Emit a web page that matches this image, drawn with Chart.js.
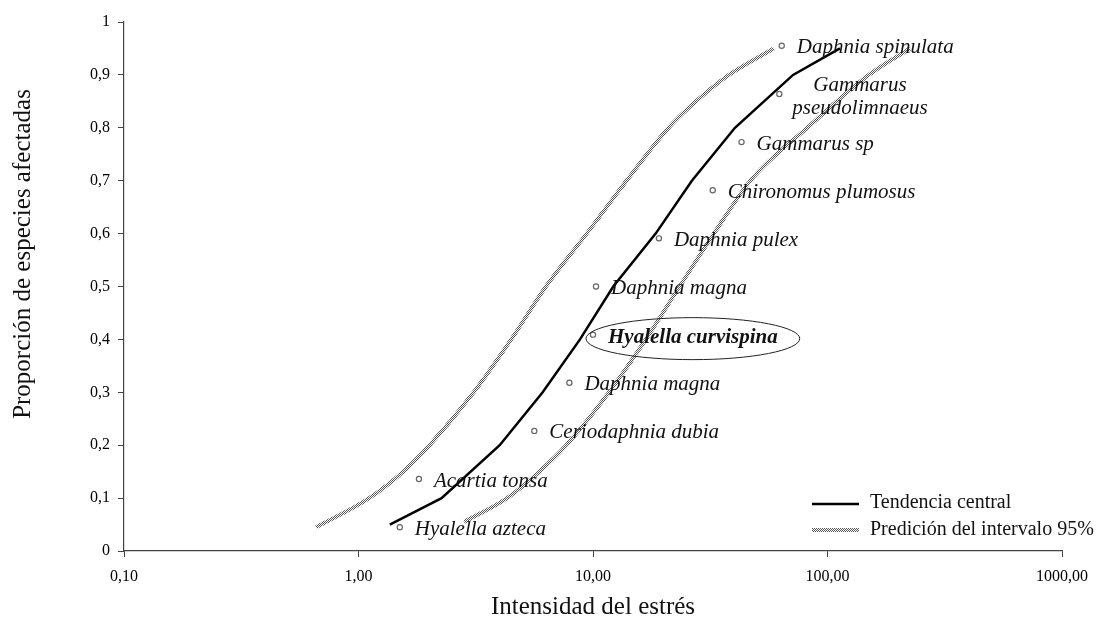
<!DOCTYPE html>
<html>
<head>
<meta charset="utf-8">
<script src="https://cdn.jsdelivr.net/npm/chart.js@4/dist/chart.umd.min.js"></script>
<style>
html,body{margin:0;padding:0;background:#fff;}
#wrap{width:1096px;height:622px;position:relative;}
</style>
</head>
<body>
<div id="wrap"><canvas id="c" width="1096" height="622"></canvas></div>
<script>
// ---- data ----
const speciesNames = ['Hyalella azteca','Acartia tonsa','Ceriodaphnia dubia','Daphnia magna','Hyalella curvispina','Daphnia magna','Daphnia pulex','Chironomus plumosus','Gammarus sp','Gammarus\npseudolimnaeus','Daphnia spinulata'];
const speciesX = [1.50, 1.81, 5.62, 7.93, 10.0, 10.3, 19.1, 32.4, 43.0, 62.3, 63.8];
const speciesY = [0.045, 0.136, 0.227, 0.318, 0.409, 0.5, 0.591, 0.682, 0.773, 0.864, 0.955];
const highlighted = 'Hyalella curvispina';

const centralX = [1.36, 2.26, 4.0, 6.1, 8.8, 12.2, 18.5, 26.4, 40.3, 71.3, 113];
const centralY = [0.05, 0.1, 0.2, 0.3, 0.4, 0.5, 0.6, 0.7, 0.8, 0.9, 0.95];

const upperX = [0.66, 1.11, 1.55, 2.01, 3.1, 4.48, 6.3, 9.4, 13.9, 21.0, 27.5, 38, 59];
const upperY = [0.045, 0.1, 0.15, 0.2, 0.3, 0.4, 0.5, 0.6, 0.7, 0.8, 0.85, 0.9, 0.95];

const lowerX = [2.82, 4.3, 5.9, 7.7, 11.7, 16.8, 23.4, 32.8, 46.9, 82, 150, 225];
const lowerY = [0.055, 0.1, 0.15, 0.2, 0.3, 0.4, 0.5, 0.6, 0.7, 0.8, 0.9, 0.95];

const xTickValues = [0.1, 1, 10, 100, 1000];
const xTickLabels = ['0,10', '1,00', '10,00', '100,00', '1000,00'];
const yTickValues = [0, 0.1, 0.2, 0.3, 0.4, 0.5, 0.6, 0.7, 0.8, 0.9, 1];
const yTickLabels = ['0', '0,1', '0,2', '0,3', '0,4', '0,5', '0,6', '0,7', '0,8', '0,9', '1'];

const xTitle = 'Intensidad del estrés';
const yTitle = 'Proporción de especies afectadas';
const legendCentral = 'Tendencia central';
const legendBand = 'Predición del intervalo 95%';

// ---- helpers ----
const zip = (xs, ys) => xs.map((x, i) => ({x: x, y: ys[i]}));
function makePattern() {
  const p = document.createElement('canvas');
  p.width = 2; p.height = 2;
  const g = p.getContext('2d');
  g.fillStyle = '#ffffff'; g.fillRect(0, 0, 2, 2);
  g.fillStyle = '#555555';
  g.fillRect(0, 0, 1, 1); g.fillRect(1, 1, 1, 1);
  return document.getElementById('c').getContext('2d').createPattern(p, 'repeat');
}
const dotPattern = makePattern();
const SERIF = '"Liberation Serif", "Times New Roman", serif';

const overlay = {
  id: 'overlay',
  afterDatasetsDraw(chart) {
    const ctx = chart.ctx;
    const xs = chart.scales.x, ys = chart.scales.y;
    ctx.save();
    ctx.fillStyle = '#111';
    ctx.textBaseline = 'middle';
    speciesNames.forEach((name, i) => {
      const px = xs.getPixelForValue(speciesX[i]);
      const py = ys.getPixelForValue(speciesY[i]);
      const lines = name.split('\n');
      if (name === highlighted) {
        ctx.font = 'italic bold 21px ' + SERIF;
        ctx.textAlign = 'left';
        const w = ctx.measureText(name).width;
        const tx = px + 15;
        ctx.fillText(name, tx, py + 3);
        ctx.beginPath();
        ctx.ellipse(tx + w / 2, py + 4, w / 2 + 22, 21, 0, 0, Math.PI * 2);
        ctx.strokeStyle = '#222';
        ctx.lineWidth = 1;
        ctx.stroke();
      } else if (lines.length > 1) {
        ctx.font = 'italic 21px ' + SERIF;
        ctx.textAlign = 'center';
        const w = Math.max(...lines.map(l => ctx.measureText(l).width));
        const cx = px + 13 + w / 2;
        lines.forEach((l, k) => ctx.fillText(l, cx, py - 8 + k * 23));
      } else {
        ctx.font = 'italic 21px ' + SERIF;
        ctx.textAlign = 'left';
        ctx.fillText(name, px + 15, py + 2);
      }
    });
    ctx.restore();
  },
  afterDraw(chart) {
    const ctx = chart.ctx;
    const a = chart.chartArea;
    ctx.save();
    ctx.fillStyle = '#111';
    // axis titles
    ctx.font = '25px ' + SERIF;
    ctx.textAlign = 'center';
    ctx.textBaseline = 'middle';
    ctx.fillText(xTitle, (a.left + a.right) / 2, 607);
    ctx.save();
    ctx.translate(23, 254);
    ctx.rotate(-Math.PI / 2);
    ctx.fillText(yTitle, 0, 0);
    ctx.restore();
    // legend
    const lx = 812, ly1 = 504, ly2 = 530;
    ctx.beginPath();
    ctx.moveTo(lx, ly1); ctx.lineTo(lx + 47, ly1);
    ctx.strokeStyle = '#000'; ctx.lineWidth = 2.5; ctx.stroke();
    ctx.beginPath();
    ctx.moveTo(lx, ly2); ctx.lineTo(lx + 47, ly2);
    ctx.strokeStyle = dotPattern; ctx.lineWidth = 4; ctx.stroke();
    ctx.font = '20px ' + SERIF;
    ctx.textAlign = 'left';
    ctx.fillStyle = '#111';
    ctx.fillText(legendCentral, 870, ly1 - 1);
    ctx.fillText(legendBand, 870, ly2);
    ctx.restore();
  }
};

new Chart(document.getElementById('c'), {
  type: 'scatter',
  data: {
    datasets: [
      {label: legendBand, data: zip(upperX, upperY), showLine: true, borderColor: dotPattern, borderWidth: 4, pointRadius: 0, cubicInterpolationMode: 'monotone', order: 3},
      {label: legendBand, data: zip(lowerX, lowerY), showLine: true, borderColor: dotPattern, borderWidth: 4, pointRadius: 0, cubicInterpolationMode: 'monotone', order: 3},
      {label: legendCentral, data: zip(centralX, centralY), showLine: true, borderColor: '#000', borderWidth: 2.5, pointRadius: 0, tension: 0, order: 2},
      {label: 'species', data: zip(speciesX, speciesY), showLine: false, pointRadius: 2.6, pointBorderWidth: 1.2, pointBorderColor: '#666', pointBackgroundColor: '#fff', order: 1}
    ]
  },
  options: {
    responsive: false,
    animation: false,
    layout: {padding: {left: 0, right: 34, top: 22, bottom: 0}},
    plugins: {legend: {display: false}, tooltip: {enabled: false}, title: {display: false}},
    scales: {
      x: {
        type: 'logarithmic', min: 0.1, max: 1000,
        afterBuildTicks: (s) => { s.ticks = xTickValues.map(v => ({value: v})); },
        afterFit: (s) => { s.height = 71; s.paddingLeft = 0; s.paddingRight = 0; },
        grid: {drawOnChartArea: false, drawTicks: true, tickLength: 6, color: '#444'},
        border: {color: '#444', width: 1.2},
        ticks: {
          autoSkip: false, maxRotation: 0, padding: 10, color: '#000',
          font: {family: SERIF, size: 16},
          callback: (v) => { const i = xTickValues.indexOf(v); return i >= 0 ? xTickLabels[i] : ''; }
        }
      },
      y: {
        min: 0, max: 1,
        afterBuildTicks: (s) => { s.ticks = yTickValues.map(v => ({value: v})); },
        afterFit: (s) => { s.width = 124; s.paddingTop = 0; s.paddingBottom = 0; },
        grid: {drawOnChartArea: false, drawTicks: true, tickLength: 6, color: '#444'},
        border: {color: '#444', width: 1.2},
        ticks: {
          autoSkip: false, padding: 8, color: '#000',
          font: {family: SERIF, size: 16},
          callback: (v) => { const i = yTickValues.findIndex(t => Math.abs(t - v) < 1e-9); return i >= 0 ? yTickLabels[i] : ''; }
        }
      }
    }
  },
  plugins: [overlay]
});
</script>
</body>
</html>
